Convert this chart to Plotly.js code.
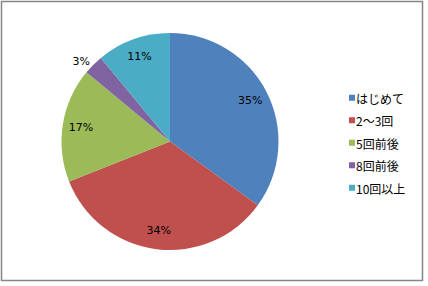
<!DOCTYPE html>
<html><head><meta charset="utf-8">
<script src="https://cdn.plot.ly/plotly-3.0.1.min.js"></script>
<style>
html,body{margin:0;padding:0;background:#fff}
#chart .legendpoints path.legendpie{transform:translate(36px,0px) scale(0.5)}
</style>
</head><body>
<div id="chart" style="width:428px;height:286px"></div>
<script>
const categories = ["はじめて", "2～3回", "5回前後", "8回前後", "10回以上"];
const values = [35, 34, 17, 3, 11];
const colors = ["#4F81BD", "#C0504D", "#9BBB59", "#8064A2", "#4BACC6"];
const labelPositions = ["inside", "inside", "inside", "outside", "inside"];

const legendLabels = categories.map(c => '<span style="font-size:12px">' + c + '</span>');

const slices = {
  type: "pie",
  labels: legendLabels,
  values: values,
  sort: false,
  direction: "clockwise",
  rotation: 0,
  marker: {colors: colors, line: {width: 0}},
  textinfo: "none",
  hoverinfo: "none",
  showlegend: true
};

const ring = {
  type: "pie",
  labels: legendLabels,
  values: values,
  sort: false,
  direction: "clockwise",
  rotation: 0,
  hole: 0.66,
  marker: {colors: values.map(() => "rgba(0,0,0,0)"), line: {width: 0}},
  texttemplate: "%{percent:.0%}",
  textposition: labelPositions,
  insidetextorientation: "horizontal",
  textfont: {family: "DejaVu Sans, Verdana, sans-serif", size: 11, color: "#000"},
  insidetextfont: {family: "DejaVu Sans, Verdana, sans-serif", size: 11, color: "#000"},
  outsidetextfont: {family: "DejaVu Sans, Verdana, sans-serif", size: 11, color: "#000"},
  hoverinfo: "none",
  showlegend: false
};

const W = 428, H = 286, L = 61, R = 149, T = 33, B = 36;
const pw = W - L - R, ph = H - T - B;
const px = x => (x - L) / pw;
const py = y => (H - B - y) / ph;

const layout = {
  width: W, height: H,
  margin: {l: L, r: R, t: T, b: B, pad: 0},
  paper_bgcolor: "#fff",
  showlegend: true,
  legend: {
    xref: "container", yref: "container",
    x: 316 / W, y: 1 - 143 / H, xanchor: "left", yanchor: "middle",
    font: {family: "Noto Sans CJK JP, sans-serif", size: 15, color: "#000"},
    itemwidth: 30,
    bgcolor: "rgba(0,0,0,0)"
  },
  shapes: [{
    type: "rect", xref: "paper", yref: "paper",
    x0: px(1.5), x1: px(422.5), y0: py(280.5), y1: py(1.5),
    line: {color: "#868686", width: 1.5}, layer: "below"
  }]
};

Plotly.newPlot("chart", [slices, ring], layout, {staticPlot: true, displayModeBar: false});
</script>
</body></html>
